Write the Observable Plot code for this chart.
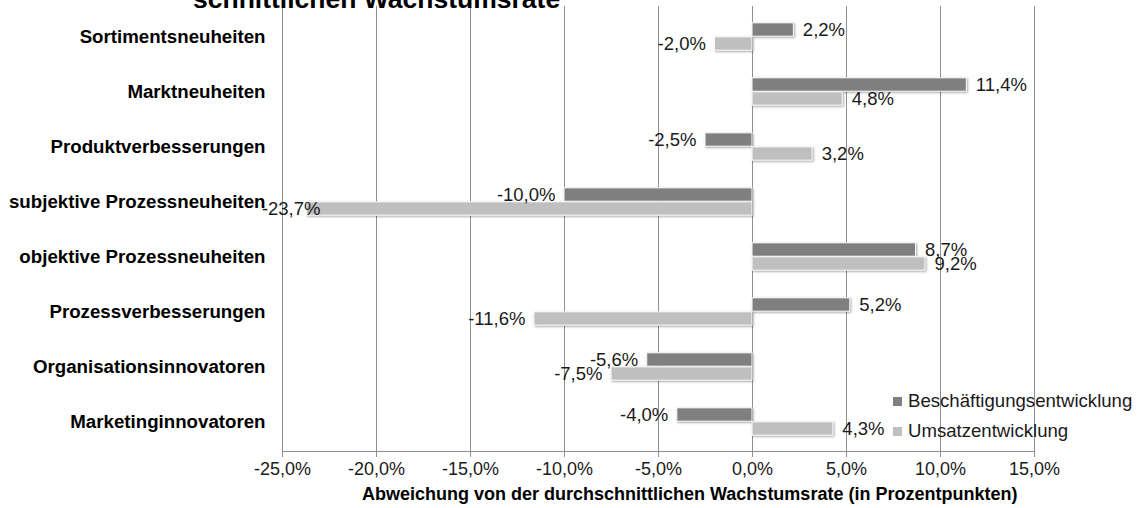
<!DOCTYPE html>
<html>
<head>
<meta charset="utf-8">
<script src="https://cdn.jsdelivr.net/npm/d3@7"></script>
<script src="https://cdn.jsdelivr.net/npm/@observablehq/plot@0.6"></script>
<style>
  html, body { margin: 0; padding: 0; background: #fff; }
  #wrap { position: relative; width: 1137px; height: 508px; overflow: hidden; font-family: 'Liberation Sans', Arial, sans-serif; }
  #chart svg { display: block; }
  #title { position: absolute; left: 193px; top: -14px; font-size: 26.5px; line-height: 26px; font-weight: bold; color: #000; white-space: nowrap; }
  #xlabel { position: absolute; left: 362px; top: 484px; font-size: 18px; line-height: 20px; font-weight: bold; color: #000; white-space: nowrap; }
  #legend { position: absolute; left: 893px; top: 386px; font-size: 18.6px; line-height: 30px; color: #1a1a1a; }
  #legend .row { display: flex; align-items: center; white-space: nowrap; height: 30px; }
  #legend .sw { width: 9px; height: 9px; margin-right: 6px; }
  #chart svg g[aria-label="bar"] rect { filter: drop-shadow(1.5px 1.5px 1px rgba(0,0,0,0.35)); }
</style>
</head>
<body>
<div id="wrap">
  <div id="chart"></div>
  <div id="title">schnittlichen Wachstumsrate</div>
  <div id="xlabel">Abweichung von der durchschnittlichen Wachstumsrate (in Prozentpunkten)</div>
  <div id="legend"></div>
</div>
<script>
const categories = [
  "Sortimentsneuheiten",
  "Marktneuheiten",
  "Produktverbesserungen",
  "subjektive Prozessneuheiten",
  "objektive Prozessneuheiten",
  "Prozessverbesserungen",
  "Organisationsinnovatoren",
  "Marketinginnovatoren"
];
const beschaeftigung = [2.2, 11.4, -2.5, -10.0, 8.7, 5.2, -5.6, -4.0];
const umsatz = [-2.0, 4.8, 3.2, -23.7, 9.2, -11.6, -7.5, 4.3];
const seriesNames = ["Beschäftigungsentwicklung", "Umsatzentwicklung"];
const seriesColors = ["#7f7f7f", "#bfbfbf"];
const xTicks = [-25, -20, -15, -10, -5, 0, 5, 10, 15];
const labelMin = -22.5; // labels kept inside the chart area

const fmt = v => v.toFixed(1).replace(".", ",") + "%";

const rowsB = categories.map((c, i) => ({category: c, value: beschaeftigung[i]}));
const rowsU = categories.map((c, i) => ({category: c, value: umsatz[i]}));

const bandH = (451 - 6) / categories.length;
const barH = 14;

function labels(rows, dy) {
  return [
    Plot.text(rows.filter(d => d.value >= 0), {
      x: "value", y: "category", text: d => fmt(d.value),
      textAnchor: "start", dx: 9, dy, fill: "#1a1a1a", fontSize: 18.5
    }),
    Plot.text(rows.filter(d => d.value < 0), {
      x: d => Math.max(d.value, labelMin), y: "category", text: d => fmt(d.value),
      textAnchor: "end", dx: -9, dy, fill: "#1a1a1a", fontSize: 18.5
    })
  ];
}

const chart = Plot.plot({
  width: 1137,
  height: 508,
  marginTop: 6,
  marginBottom: 57,
  marginLeft: 282,
  marginRight: 103,
  style: {fontFamily: "'Liberation Sans', Arial, sans-serif", fontSize: "18px", color: "#000", background: "transparent", overflow: "visible"},
  x: {domain: [-25, 15]},
  y: {domain: categories, padding: 0},
  marks: [
    Plot.gridX(xTicks, {stroke: "#8f8f8f", strokeOpacity: 1}),
    Plot.frame({anchor: "bottom", stroke: "#8f8f8f"}),
    Plot.axisX(xTicks, {tickFormat: fmt, tickSize: 6, tickPadding: 5, stroke: "#8f8f8f", fill: "#1a1a1a", label: null, fontSize: 18}),
    Plot.axisY({tickSize: 0, tickPadding: 17, fontWeight: "bold", label: null, fontSize: 18.7, fill: "#000"}),
    Plot.barX(rowsB, {
      x: "value", y: "category", fill: seriesColors[0], stroke: "#fff", strokeWidth: 1,
      insetTop: bandH / 2 - barH, insetBottom: bandH / 2
    }),
    Plot.barX(rowsU, {
      x: "value", y: "category", fill: seriesColors[1], stroke: "#fff", strokeWidth: 1,
      insetTop: bandH / 2, insetBottom: bandH / 2 - barH
    }),
    ...labels(rowsB, -7),
    ...labels(rowsU, 7)
  ]
});
document.getElementById("chart").appendChild(chart);

const legend = document.getElementById("legend");
seriesNames.forEach((name, i) => {
  const row = document.createElement("div");
  row.className = "row";
  const sw = document.createElement("span");
  sw.className = "sw";
  sw.style.background = seriesColors[i];
  const t = document.createElement("span");
  t.textContent = name;
  row.appendChild(sw);
  row.appendChild(t);
  legend.appendChild(row);
});
</script>
</body>
</html>
